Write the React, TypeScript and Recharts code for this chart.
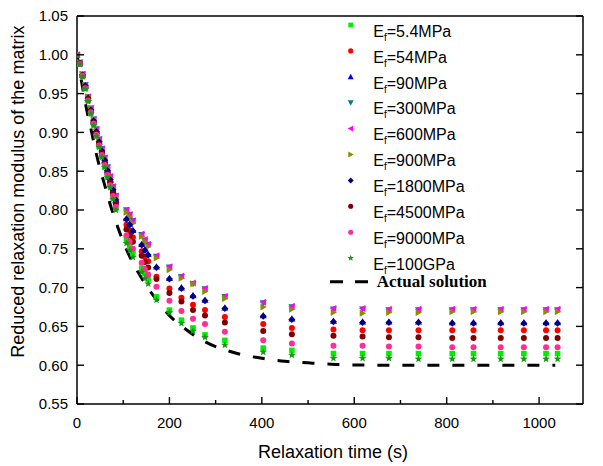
import React from 'react';
import { ComposedChart, Scatter, Line, XAxis, YAxis } from 'recharts';

// ---------- data ----------
const times = [0, 6, 12, 18, 24, 30, 36, 42, 48, 54, 60, 66, 72, 78, 84, 107, 114, 121, 140, 147, 154, 172, 200, 226, 251, 277, 320, 403, 465, 555, 618, 675, 739, 812, 858, 917, 967, 1015, 1040];

const ef5_4MPa = [1.000, .988, .972, .957, .941, .925, .910, .896, .882, .869, .856, .843, .831, .816, .802, .762, .753, .744, .725, .718, .711, .688, .671, .658, .648, .639, .632, .622, .619, .615, .615, .615, .615, .615, .615, .615, .615, .615, .615];
const ef54MPa = [1.000, .989, .974, .959, .943, .928, .913, .900, .887, .874, .862, .849, .837, .823, .810, .781, .774, .765, .747, .740, .734, .714, .699, .687, .678, .671, .662, .653, .648, .646, .645, .645, .645, .645, .645, .645, .645, .645, .645];
const ef90MPa = [1.000, .989, .974, .960, .944, .929, .915, .902, .888, .876, .864, .852, .839, .826, .813, .789, .782, .774, .756, .749, .743, .727, .712, .700, .690, .684, .674, .664, .660, .657, .656, .656, .656, .655, .655, .655, .655, .655, .655];
const ef300MPa = [1.000, .990, .975, .961, .946, .931, .917, .904, .891, .879, .867, .855, .843, .830, .818, .800, .794, .786, .768, .761, .755, .740, .726, .714, .705, .698, .688, .680, .675, .672, .672, .671, .671, .671, .671, .671, .671, .671, .671];
const ef600MPa = [1.000, .990, .975, .961, .946, .931, .917, .904, .891, .879, .867, .855, .843, .830, .818, .800, .794, .786, .769, .762, .756, .741, .727, .715, .706, .699, .689, .681, .676, .673, .673, .672, .672, .672, .672, .672, .672, .672, .672];
const ef900MPa = [1.000, .990, .975, .961, .946, .931, .917, .903, .890, .878, .866, .854, .842, .829, .817, .797, .791, .783, .766, .759, .753, .738, .723, .712, .705, .695, .686, .675, .672, .668, .667, .668, .668, .669, .669, .669, .669, .669, .669];
const ef1800MPa = [1.000, .989, .974, .960, .944, .929, .915, .901, .888, .876, .864, .851, .839, .826, .813, .788, .781, .773, .755, .748, .742, .726, .711, .699, .689, .683, .673, .663, .659, .656, .655, .655, .655, .654, .654, .654, .654, .654, .654];
const ef4500MPa = [1.000, .989, .973, .958, .943, .927, .912, .899, .885, .873, .860, .847, .835, .821, .808, .775, .767, .759, .741, .733, .726, .711, .693, .682, .671, .664, .655, .644, .640, .638, .637, .636, .636, .635, .635, .635, .635, .635, .635];
const ef9000MPa = [1.000, .988, .973, .957, .941, .926, .911, .897, .883, .871, .858, .845, .832, .818, .804, .767, .759, .750, .732, .724, .717, .701, .683, .670, .660, .653, .643, .632, .628, .625, .625, .624, .624, .623, .623, .623, .623, .623, .623];
const ef100GPa = [1.000, .988, .972, .956, .940, .924, .909, .895, .881, .868, .855, .842, .829, .814, .800, .757, .748, .739, .720, .712, .705, .684, .668, .654, .644, .636, .626, .617, .613, .609, .609, .609, .608, .608, .608, .608, .608, .608, .608];

const actualTimes = [0, 10, 20, 30, 40, 50, 60, 70, 80, 90, 100, 120, 140, 160, 180, 200, 225, 250, 275, 300, 330, 360, 400, 450, 500, 560, 650, 800, 1035];
const actualValues = [1.0, .965, .932, .905, .877, .853, .832, .811, .792, .775, .759, .733, .712, .694, .679, .664, .651, .640, .631, .624, .618, .613, .609, .605, .603, .601, .600, .600, .600];

const legendLabels = ['5.4MPa', '54MPa', '90MPa', '300MPa', '600MPa', '900MPa', '1800MPa', '4500MPa', '9000MPa', '100GPa'];
const xTicks = [0, 100, 200, 300, 400, 500, 600, 700, 800, 900, 1000];
const yTicks = [0.55, 0.575, 0.6, 0.625, 0.65, 0.675, 0.7, 0.725, 0.75, 0.775, 0.8, 0.825, 0.85, 0.875, 0.9, 0.925, 0.95, 0.975, 1.0, 1.025, 1.05];

// ---------- styles ----------
const seriesValues = [ef5_4MPa, ef54MPa, ef90MPa, ef300MPa, ef600MPa, ef900MPa, ef1800MPa, ef4500MPa, ef9000MPa, ef100GPa];
const seriesStyle = [
  { kind: 'square', color: '#00ee00' },
  { kind: 'circle', color: '#ff0000' },
  { kind: 'up', color: '#0000ff' },
  { kind: 'down', color: '#008080' },
  { kind: 'left', color: '#ff00ff' },
  { kind: 'right', color: '#8c8c00' },
  { kind: 'diamond', color: '#000080' },
  { kind: 'circle', color: '#800000' },
  { kind: 'circle', color: '#ff2d96' },
  { kind: 'star', color: '#129a12' },
];

const FONT = '"Liberation Sans", Arial, sans-serif';

function Marker({ cx, cy, kind, color, s = 1 }: any) {
  if (cx == null || cy == null) return null;
  const a = 3.5 * s;
  const b = 2.8 * s;
  switch (kind) {
    case 'square':
      return <rect x={cx - b} y={cy - b} width={2 * b} height={2 * b} fill={color} />;
    case 'circle':
      return <circle cx={cx} cy={cy} r={3 * s} fill={color} />;
    case 'up':
      return <polygon points={`${cx},${cy - a} ${cx + a},${cy + b} ${cx - a},${cy + b}`} fill={color} />;
    case 'down':
      return <polygon points={`${cx},${cy + a} ${cx + a},${cy - b} ${cx - a},${cy - b}`} fill={color} />;
    case 'left':
      return <polygon points={`${cx - a},${cy} ${cx + b},${cy - a} ${cx + b},${cy + a}`} fill={color} />;
    case 'right':
      return <polygon points={`${cx + a},${cy} ${cx - b},${cy - a} ${cx - b},${cy + a}`} fill={color} />;
    case 'diamond':
      return <polygon points={`${cx},${cy - a} ${cx + a},${cy} ${cx},${cy + a} ${cx - a},${cy}`} fill={color} />;
    case 'star': {
      const pts: string[] = [];
      for (let k = 0; k < 10; k++) {
        const r = k % 2 === 0 ? 4 * s : 1.7 * s;
        const ang = -Math.PI / 2 + (k * Math.PI) / 5;
        pts.push(`${cx + r * Math.cos(ang)},${cy + r * Math.sin(ang)}`);
      }
      return <polygon points={pts.join(' ')} fill={color} />;
    }
    default:
      return null;
  }
}

const isMajorX = (v: number) => Math.round(v) % 200 === 0;
const isMajorY = (v: number) => Math.round(v * 1000) % 50 === 0;

function BottomTick({ x, y, payload }: any) {
  const v = payload.value;
  const axisY = y - 13;
  const len = isMajorX(v) ? 7 : 4;
  return (
    <g>
      <line x1={x} y1={axisY} x2={x} y2={axisY - len} stroke="#000" strokeWidth={1.4} />
      {isMajorX(v) && (
        <text x={x} y={y} dy="0.71em" textAnchor="middle" fontSize={15} fontFamily={FONT} fill="#000">
          {v}
        </text>
      )}
    </g>
  );
}

function TopTick({ x, y, payload }: any) {
  const v = payload.value;
  const len = isMajorX(v) ? 6 : 4;
  return <line x1={x} y1={y} x2={x} y2={y + len} stroke="#000" strokeWidth={1.4} />;
}

function LeftTick({ x, y, payload }: any) {
  const v = payload.value;
  const axisX = x + 9;
  const len = isMajorY(v) ? 7 : 4;
  return (
    <g>
      <line x1={axisX} y1={y} x2={axisX + len} y2={y} stroke="#000" strokeWidth={1.4} />
      {isMajorY(v) && (
        <text x={x} y={y} dy="0.36em" textAnchor="end" fontSize={15} fontFamily={FONT} fill="#000">
          {v.toFixed(2)}
        </text>
      )}
    </g>
  );
}

function RightTick({ x, y, payload }: any) {
  const v = payload.value;
  const len = isMajorY(v) ? 7 : 4;
  return <line x1={x} y1={y} x2={x - len} y2={y} stroke="#000" strokeWidth={1.4} />;
}

export default function App() {
  const seriesData = seriesValues.map((vals) => times.map((t, i) => ({ t, v: vals[i] })));
  const actualData = actualTimes.map((t, i) => ({ t, v: actualValues[i] }));

  const rowGap = 25.9;

  return (
    <div style={{ position: 'absolute', left: 0, top: 0, width: 603, height: 466, background: '#fff' }}>
      <ComposedChart width={603} height={466} margin={{ top: 15, right: 19, bottom: 0, left: 0 }}>
        <XAxis
          xAxisId="bottom"
          dataKey="t"
          type="number"
          domain={[0, 1095]}
          allowDataOverflow
          ticks={xTicks}
          height={62}
          tickSize={0}
          tickMargin={13}
          tickLine={false}
          axisLine={{ stroke: '#000', strokeWidth: 1.5 }}
          tick={<BottomTick />}
          label={(p: any) => {
            const vb = p.viewBox || {};
            return (
              <text x={vb.x + vb.width / 2 + 3} y={vb.y + 54} textAnchor="middle" fontSize={18} fontFamily={FONT} fill="#000">
                Relaxation time (s)
              </text>
            );
          }}
        />
        <XAxis
          xAxisId="top"
          orientation="top"
          type="number"
          domain={[0, 1050]}
          allowDataOverflow
          ticks={xTicks}
          height={1}
          tickSize={0}
          tickMargin={0}
          tickLine={false}
          axisLine={{ stroke: '#000', strokeWidth: 1.5 }}
          tick={<TopTick />}
        />
        <YAxis
          yAxisId="left"
          dataKey="v"
          type="number"
          domain={[0.55, 1.05]}
          allowDataOverflow
          ticks={yTicks}
          width={77}
          tickSize={0}
          tickMargin={9}
          tickLine={false}
          axisLine={{ stroke: '#000', strokeWidth: 1.5 }}
          tick={<LeftTick />}
          label={() => (
            <text
              x={18}
              y={191.7}
              transform="rotate(-90 18 191.7)"
              textAnchor="middle"
              dominantBaseline="central"
              fontSize={18}
              fontFamily={FONT}
              fill="#000"
            >
              Reduced relaxation modulus of the matrix
            </text>
          )}
        />
        <YAxis
          yAxisId="right"
          orientation="right"
          type="number"
          domain={[0.55, 1.05]}
          allowDataOverflow
          ticks={yTicks}
          width={1}
          tickSize={0}
          tickMargin={0}
          tickLine={false}
          axisLine={{ stroke: '#000', strokeWidth: 1.5 }}
          tick={<RightTick />}
        />
        {seriesData.map((d, i) => (
          <Scatter
            key={legendLabels[i]}
            name={legendLabels[i]}
            xAxisId="bottom"
            yAxisId="left"
            data={d}
            dataKey="v"
            isAnimationActive={false}
            shape={(p: any) => <Marker cx={p.cx} cy={p.cy} kind={seriesStyle[i].kind} color={seriesStyle[i].color} />}
          />
        ))}
        <Line
          xAxisId="bottom"
          yAxisId="left"
          data={actualData}
          dataKey="v"
          type="monotone"
          stroke="#000"
          strokeWidth={3}
          strokeDasharray="12 13"
          dot={false}
          activeDot={false}
          isAnimationActive={false}
        />
      </ComposedChart>
      <svg width={603} height={466} style={{ position: 'absolute', left: 0, top: 0, pointerEvents: 'none' }}>
        {legendLabels.map((lab, i) => (
          <g key={lab}>
            <Marker cx={350.7} cy={25 + i * rowGap} kind={seriesStyle[i].kind} color={seriesStyle[i].color} s={0.85} />
            <text x={373.3} y={36.7 + i * rowGap} fontSize={16} fontFamily={FONT} fill="#000">
              E
              <tspan fontSize={10} dy={4}>f</tspan>
              <tspan fontSize={16} dy={-4}>={lab}</tspan>
            </text>
          </g>
        ))}
        <line x1={330} y1={281.7} x2={368} y2={281.7} stroke="#000" strokeWidth={3} strokeDasharray="13 12" />
        <text x={376.7} y={286.7} fontSize={17} fontWeight="bold" fontFamily='"Liberation Serif", "Times New Roman", serif' fill="#000">
          Actual solution
        </text>
      </svg>
    </div>
  );
}
